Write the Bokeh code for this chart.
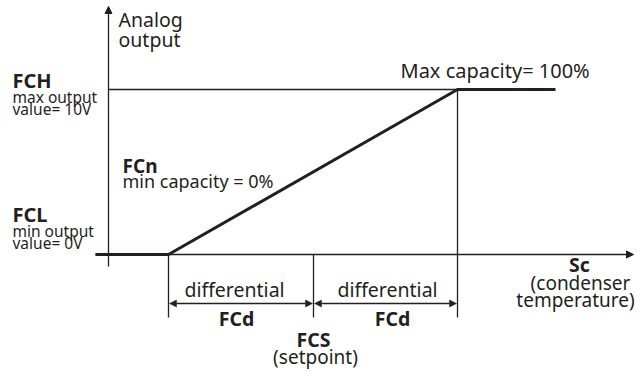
from bokeh.plotting import figure
from bokeh.models import Range1d, Arrow, NormalHead
from bokeh.core.properties import value
from bokeh.embed import file_html
from bokeh.resources import INLINE

# key positions of the control diagram (image pixel coordinates)
temp_points = [95, 168, 457, 555]       # x: start, FCL point, FCH point, end
output_levels = [254, 254, 89, 89]      # y: output level at each point
fcs_x = 313
axis_origin_x = 108
axis_y = 254
fch_y = 89
dim_y = 303
guide_bottom = 317

FONT = "Noto Sans"
W, H = 642, 371

p = figure(width=W, height=H, output_backend="svg", toolbar_location=None,
           x_range=Range1d(0, W), y_range=Range1d(H, 0),
           min_border=0, outline_line_color=None)
p.axis.visible = False
p.grid.visible = False

LC = "#231f20"

# axes
p.add_layout(Arrow(end=NormalHead(size=7, fill_color=LC, line_color=LC, line_width=1),
                   x_start=axis_origin_x, y_start=266, x_end=axis_origin_x, y_end=6,
                   line_width=1.3, line_color=LC))
p.add_layout(Arrow(end=NormalHead(size=7, fill_color=LC, line_color=LC, line_width=1),
                   x_start=95, y_start=axis_y, x_end=633, y_end=axis_y,
                   line_width=1.3, line_color=LC))

# thin FCH reference line
p.line([axis_origin_x, temp_points[2]], [fch_y, fch_y], line_color=LC, line_width=1.3)

# characteristic curve
p.line(temp_points, output_levels, line_color=LC, line_width=3)

# vertical guide lines
for xv, ytop in [(temp_points[1], axis_y), (fcs_x, axis_y), (temp_points[2], fch_y)]:
    p.line([xv, xv], [ytop, guide_bottom], line_color=LC, line_width=1.3)

# dimension arrows
for x0, x1 in [(temp_points[1], fcs_x), (fcs_x, temp_points[2])]:
    p.add_layout(Arrow(start=NormalHead(size=7, fill_color=LC, line_color=LC, line_width=0.5),
                       end=NormalHead(size=7, fill_color=LC, line_color=LC, line_width=0.5),
                       x_start=x0 + 1, y_start=dim_y, x_end=x1 - 1, y_end=dim_y,
                       line_width=1.3, line_color=LC))

def txt(x, y, s, size=19, bold=False, align="left"):
    p.text(x=[x], y=[y], text=[s], text_font=value(FONT), text_font_size=f"{size}px",
           text_font_style="bold" if bold else "normal", text_align=align,
           text_baseline="alphabetic", text_color=LC)

txt(118, 19, "Analog", 19.5)
txt(118, 39, "output", 19.5)
txt(12, 80, "FCH", 20, True)
txt(12, 96, "max output", 15.5)
txt(12, 108, "value= 10V", 15.5)
txt(12, 214, "FCL", 20, True)
txt(12, 230, "min output", 15.5)
txt(12, 242, "value= 0V", 15.5)
txt(122, 165, "FCn", 19, True)
txt(122, 180, "min capacity = 0%", 18)
txt(400, 70, "Max capacity= 100%", 20)
txt(234, 289, "differential", 19.5, align="center")
txt(387, 289, "differential", 19.5, align="center")
txt(236, 318, "FCd", 19.5, True, "center")
txt(392, 318, "FCd", 19.5, True, "center")
txt(313, 339, "FCS", 19.5, True, "center")
txt(315, 356, "(setpoint)", 19, align="center")
txt(579, 264, "Sc", 19.5, True, "center")
txt(580, 282, "(condenser", 19, align="center")
txt(575, 299, "temperature)", 19, align="center")

open("out.html", "w").write(file_html(p, INLINE))
